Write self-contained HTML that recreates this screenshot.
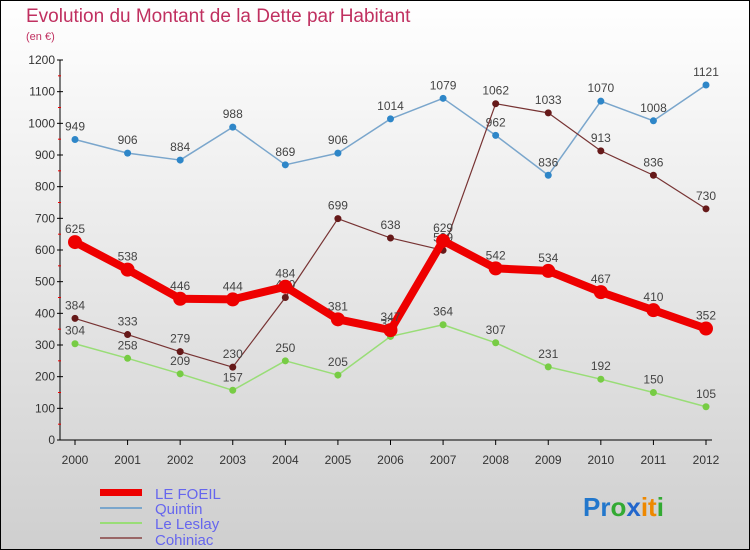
<!DOCTYPE html>
<html><head><meta charset="utf-8"><style>
body{margin:0}
#c{width:750px;height:550px;position:relative;overflow:hidden;font-family:"Liberation Sans",sans-serif}
</style></head><body>
<div id="c">
<svg id="s" width="750" height="550" xmlns="http://www.w3.org/2000/svg">
<defs><linearGradient id="bg" x1="0" y1="0" x2="0" y2="1"><stop offset="0" stop-color="#ffffff"/><stop offset="1" stop-color="#cfcfcf"/></linearGradient></defs>
<rect x="0.5" y="0.5" width="749" height="549" fill="url(#bg)" stroke="#000"/>
<text x="26" y="22" font-size="19" fill="#c03060">Evolution du Montant de la Dette par Habitant</text>
<text x="26" y="40" font-size="11" fill="#c03060">(en €)</text>
<g id="axes"></g><g id="series"></g>
<g font-size="15" fill="#6666ee">
<rect x="100" y="489" width="42" height="7" fill="#ee0000"/>
<text x="155" y="499">LE FOEIL</text>
<line x1="100" y1="508" x2="142" y2="508" stroke="#7aa6cc" stroke-width="2"/>
<text x="155" y="514">Quintin</text>
<line x1="100" y1="523" x2="142" y2="523" stroke="#99dd77" stroke-width="2"/>
<text x="155" y="529">Le Leslay</text>
<line x1="100" y1="538" x2="142" y2="538" stroke="#996666" stroke-width="2"/>
<text x="155" y="545">Cohiniac</text>
</g>
<text x="583" y="516" font-size="26" font-weight="bold"><tspan fill="#2277cc">Pr</tspan><tspan fill="#33aa33">o</tspan><tspan fill="#2266cc">x</tspan><tspan fill="#ee8800">it</tspan><tspan fill="#33aa33">i</tspan></text>
</svg>
</div>
<script>
const years=[2000,2001,2002,2003,2004,2005,2006,2007,2008,2009,2010,2011,2012];
const yTicks=[0,100,200,300,400,500,600,700,800,900,1000,1100,1200];
const foeil=[625,538,446,444,484,381,347,629,542,534,467,410,352];
const quintin=[949,906,884,988,869,906,1014,1079,962,836,1070,1008,1121];
const leslay=[304,258,209,157,250,205,327,364,307,231,192,150,105];
const cohiniac=[384,333,279,230,450,699,638,599,1062,1033,913,836,730];
const NS="http://www.w3.org/2000/svg";
const X=i=>75+i*(706-75)/(years.length-1);
const Y=v=>440-v*380/1200;
function mk(t,a,p){const e=document.createElementNS(NS,t);for(const k in a)e.setAttribute(k,a[k]);p.appendChild(e);return e;}
const ax=document.getElementById('axes');
let l=mk('line',{x1:60,y1:60,x2:60,y2:440,stroke:'#000'},ax);


l=mk('line',{x1:60,y1:440,x2:712,y2:440,stroke:'#000'},ax);


yTicks.forEach((v,i)=>{
 mk('line',{x1:57,y1:Y(v),x2:63,y2:Y(v),stroke:'#000'},ax);
 if(i<yTicks.length-1) mk('line',{x1:58,y1:Y(v+50),x2:61,y2:Y(v+50),stroke:'#e00'},ax);
 const t=mk('text',{x:55,y:Y(v)+4,'font-size':12,'text-anchor':'end',fill:'#333'},ax);t.textContent=v;
 
 
});
years.forEach((y,i)=>{
 mk('line',{x1:X(i),y1:440,x2:X(i),y2:445,stroke:'#000'},ax);
 const t=mk('text',{x:X(i),y:464,'font-size':12,'text-anchor':'middle',fill:'#333'},ax);t.textContent=y;
 
 
});
const sg=document.getElementById('series');
function series(name,data,color,dot,w,r){
 const g=mk('g',{},sg);
 
 
 const p=mk('polyline',{points:data.map((v,i)=>X(i)+','+Y(v)).join(' '),fill:'none',stroke:color,'stroke-width':w,'stroke-linejoin':'round'},g);
 
 
 data.forEach((v,i)=>{
  const c=mk('circle',{cx:X(i),cy:Y(v),r:r,fill:dot},g);
  
  
  const t=mk('text',{x:X(i),y:Y(v)-9,'font-size':12,'text-anchor':'middle',fill:'#444'},g);t.textContent=v;
  
  
 });
}
series('quintin',quintin,'#7aa6cc','#2e86c8',1.5,3.5);
series('le-leslay',leslay,'#99dd77','#77cc44',1.5,3.5);
series('cohiniac',cohiniac,'#773333','#661919',1.2,3.5);
series('le-foeil',foeil,'#ee0000','#ee0000',8,7);
</script>
</body></html>
